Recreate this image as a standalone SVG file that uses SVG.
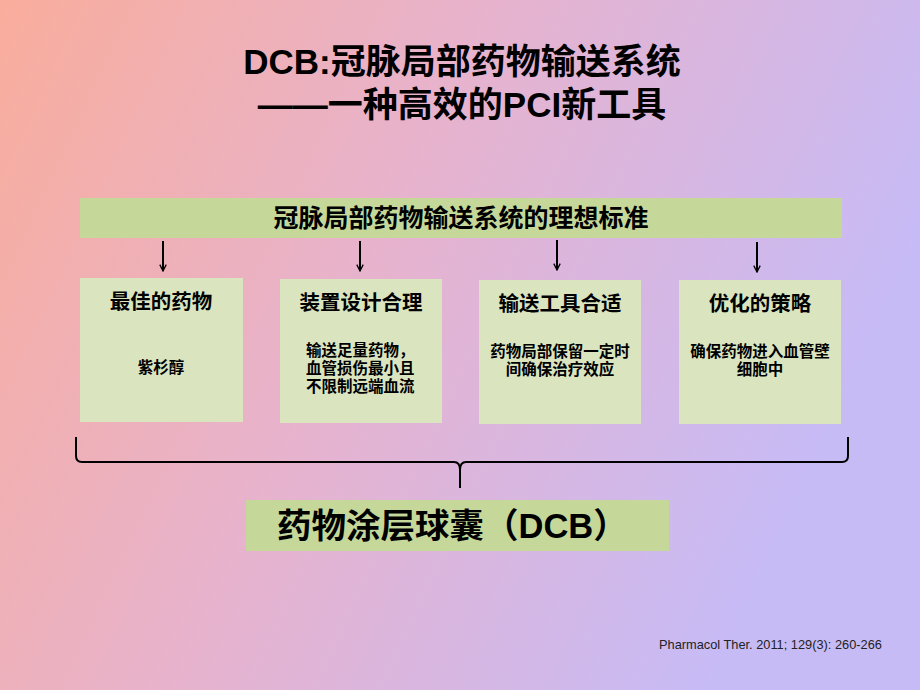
<svg xmlns="http://www.w3.org/2000/svg" width="920" height="690" viewBox="0 0 920 690">
<defs>
<linearGradient id="bg" x1="0" y1="0" x2="1" y2="0.35">
<stop offset="0" stop-color="#f9ad9c"/>
<stop offset="0.5" stop-color="#e6b3cf"/>
<stop offset="1" stop-color="#c7bbf6"/>
</linearGradient>
<marker id="ah" viewBox="0 0 10 10" refX="9" refY="5" markerWidth="8" markerHeight="8" orient="auto" markerUnits="userSpaceOnUse">
<path d="M1,1 L9,5 L1,9" fill="none" stroke="#000" stroke-width="1.6"/>
</marker>
<style>
.cjk{font-family:"Liberation Sans","Noto Sans CJK SC",sans-serif;font-weight:700;fill:#000}
.bar{fill:#c5d89a}
.box{fill:#dae5c0}
.t1{font-size:35px;text-anchor:middle}
.t2{font-size:25px;text-anchor:middle}
.h{font-size:20.5px;text-anchor:middle}
.b{font-size:15.5px;text-anchor:middle}
.l{text-anchor:start}
.conn{stroke:#000;stroke-width:2;fill:none}
</style>
</defs>
<rect width="920" height="690" fill="url(#bg)"/>
<g id="title">
<text class="cjk t1" x="462" y="74">DCB:冠脉局部药物输送系统</text>
<text class="cjk t1" x="462" y="117">——一种高效的PCI新工具</text>
</g>
<g id="criteria">
<rect class="bar" x="80" y="198" width="762" height="40"/>
<text class="cjk t2" x="461" y="227">冠脉局部药物输送系统的理想标准</text>
</g>
<g id="box1">
<rect class="box" x="80" y="278" width="163" height="144"/>
<text class="cjk h" x="161" y="309">最佳的药物</text>
<text class="cjk b" x="161" y="373">紫杉醇</text>
</g>
<g id="box2">
<rect class="box" x="280" y="279" width="162" height="144"/>
<text class="cjk h" x="361" y="310">装置设计合理</text>
<text class="cjk b l" x="306" y="356">输送足量药物，</text>
<text class="cjk b l" x="306" y="374">血管损伤最小且</text>
<text class="cjk b l" x="306" y="392">不限制远端血流</text>
</g>
<g id="box3">
<rect class="box" x="479" y="280" width="162" height="144"/>
<text class="cjk h" x="560" y="311">输送工具合适</text>
<text class="cjk b" x="560" y="357">药物局部保留一定时</text>
<text class="cjk b" x="560" y="375">间确保治疗效应</text>
</g>
<g id="box4">
<rect class="box" x="679" y="280" width="162" height="144"/>
<text class="cjk h" x="760" y="311">优化的策略</text>
<text class="cjk b" x="760" y="357">确保药物进入血管壁</text>
<text class="cjk b" x="760" y="375">细胞中</text>
</g>
<g id="dcb">
<rect class="bar" x="246" y="500" width="423" height="51"/>
<text class="cjk" x="277" y="538" style="font-size:34.5px">药物涂层球囊（DCB）</text>
</g>
<g id="connectors">
<line class="conn" x1="163" y1="241" x2="163" y2="271" marker-end="url(#ah)"/>
<line class="conn" x1="360" y1="241" x2="360" y2="271" marker-end="url(#ah)"/>
<line class="conn" x1="557" y1="240" x2="557" y2="270" marker-end="url(#ah)"/>
<line class="conn" x1="757" y1="242" x2="757" y2="272" marker-end="url(#ah)"/>
<path class="conn" d="M76,437 L76,456 Q76,462 82,462 L454,462 Q460,462 460,470 L460,488 M460,470 Q460,462 466,462 L842,462 Q848,462 848,456 L848,437"/>
</g>
<text x="659" y="649" style="font-family:'Liberation Sans',sans-serif;font-size:12.8px;fill:#222">Pharmacol Ther. 2011; 129(3): 260-266</text>
</svg>
